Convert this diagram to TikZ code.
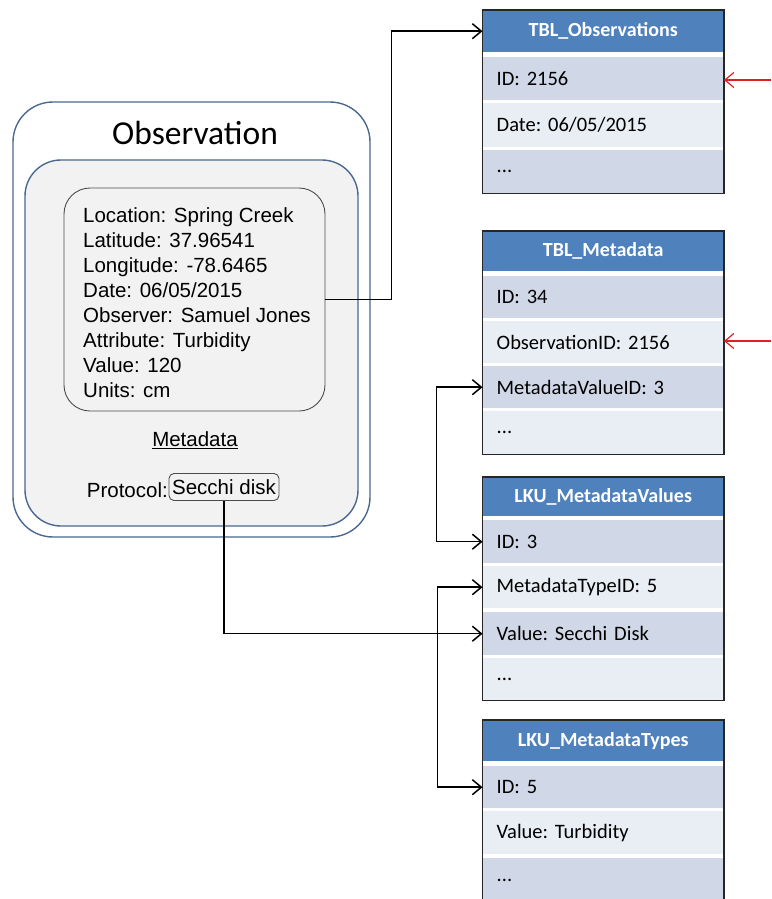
\documentclass[tikz,border=0pt]{standalone}
\usepackage{fontspec}
\setmainfont{Liberation Sans}
\newfontfamily\calibri{Carlito}
\usetikzlibrary{arrows.meta}
\definecolor{hdrblue}{HTML}{4F81BD}
\definecolor{rowdark}{HTML}{D0D8E8}
\definecolor{rowlight}{HTML}{E9EDF4}
\definecolor{boxline}{HTML}{4A6890}
\definecolor{boxfill}{HTML}{F2F2F2}
\definecolor{tblline}{HTML}{262626}
\definecolor{redarr}{HTML}{E02020}
\tikzset{
  hdr/.style={rectangle, fill=hdrblue, minimum width=241pt, inner sep=0pt, anchor=north west,
    text=white, font=\calibri\bfseries\fontsize{20}{24}\selectfont\frenchspacing},
  rowbase/.style={rectangle, anchor=north west, minimum width=241pt, text width=213pt,
    inner xsep=14pt, inner ysep=0pt, align=left, font=\calibri\fontsize{20.5}{24}\selectfont\frenchspacing},
  rowd/.style={rowbase, fill=rowdark},
  rowl/.style={rowbase, fill=rowlight},
  tblborder/.style={draw=tblline, line width=1.6pt},
  conn/.style={draw=black, line width=1.5pt, -{Straight Barb[length=9pt,width=15pt,line width=1.5pt]}},
  conn2/.style={draw=black, line width=1.5pt, {Straight Barb[length=9pt,width=15pt,line width=1.5pt]}-{Straight Barb[length=9pt,width=15pt,line width=1.5pt]}},
  redconn/.style={draw=redarr, line width=1.2pt, -{Straight Barb[length=9pt,width=15pt,line width=1.2pt]}},
}
\begin{document}
\begin{tikzpicture}[x=1pt,y=-1pt]
\useasboundingbox (0,0) rectangle (771,899);
% Observation boxes
\draw[boxline, line width=1.4pt, fill=white, rounded corners=40pt] (13,102) rectangle (370,537);
\draw[boxline, line width=1.4pt, fill=boxfill, rounded corners=36pt] (25,160) rectangle (358,526);
\node[font=\calibri\fontsize{33.5}{40}\selectfont] (title) at (195,133) {Observation};
\node[draw=black!70, line width=0.9pt, fill=boxfill, rounded corners=26pt,
      minimum width=261pt, minimum height=223pt] (data) at (194.5,299.5) {};
\node[anchor=north west, align=left, inner sep=0pt, font=\fontsize{20.5}{25}\selectfont] (datatext) at (83,207)
 {Location: Spring Creek\\Latitude: 37.96541\\Longitude: -78.6465\\Date: 06/05/2015\\Observer: Samuel Jones\\Attribute: Turbidity\\Value: 120\\Units: cm};
\node[font=\fontsize{20.5}{25}\selectfont] (meta) at (195,440) {\underline{Metadata}};
\node[anchor=east, inner sep=0pt, font=\fontsize{20.5}{25}\selectfont] (protocol) at (168,490) {Protocol:};
\node[draw=black!70, line width=0.9pt, fill=boxfill, rounded corners=5pt, minimum width=110pt,
      minimum height=27pt, inner sep=0pt, font=\fontsize{20.5}{25}\selectfont] (secchi) at (224,487) {Secchi disk};

% TBL_Observations
\node[hdr, minimum height=42pt] (obshdr) at (482.5,10) {TBL\_Observations};
\node[rowd, minimum height=43pt] (obsid) at (482.5,57) {ID: 2156};
\node[rowl, minimum height=44pt] (obsdate) at (482.5,103) {Date: 06/05/2015};
\node[rowd, minimum height=43pt] (obsdots) at (482.5,150) {...};
\draw[tblborder] (obshdr.north west) rectangle (obsdots.south east);

% TBL_Metadata
\node[hdr, minimum height=40pt] (mdhdr) at (482.5,231) {TBL\_Metadata};
\node[rowd, minimum height=42pt] (mdid) at (482.5,276) {ID: 34};
\node[rowl, minimum height=42pt] (mdobs) at (482.5,321) {ObservationID: 2156};
\node[rowd, minimum height=42pt] (mdval) at (482.5,366) {MetadataValueID: 3};
\node[rowl, minimum height=43pt] (mddots) at (482.5,411) {...};
\draw[tblborder] (mdhdr.north west) rectangle (mddots.south east);

% LKU_MetadataValues
\node[hdr, minimum height=39pt] (mvhdr) at (482.5,477) {LKU\_MetadataValues};
\node[rowd, minimum height=43pt] (mvid) at (482.5,520) {ID: 3};
\node[rowl, minimum height=42pt] (mvtype) at (482.5,566) {MetadataTypeID: 5};
\node[rowd, minimum height=43pt] (mvvalue) at (482.5,612) {Value: Secchi Disk};
\node[rowl, minimum height=42pt] (mvdots) at (482.5,658) {...};
\draw[tblborder] (mvhdr.north west) rectangle (mvdots.south east);

% LKU_MetadataTypes
\node[hdr, minimum height=41pt] (mthdr) at (482.5,720) {LKU\_MetadataTypes};
\node[rowd, minimum height=42pt] (mtid) at (482.5,766) {ID: 5};
\node[rowl, minimum height=43pt] (mtvalue) at (482.5,811) {Value: Turbidity};
\node[rowd, minimum height=44pt] (mtdots) at (482.5,858) {...};
\draw[tblborder] (mthdr.north west) rectangle (mtdots.south east);

% connectors
\draw[conn] (data.east) -- ++(66,0) |- (obshdr.west);
\draw[conn] (secchi.south) |- (mvvalue.west);
\draw[conn2] (mdval.west) -- ++(-46,0) |- (mvid.west);
\draw[conn2] (mvtype.west) -- ++(-45,0) |- (mtid.west);
\coordinate (red1) at (771,80);
\coordinate (red2) at (771,341);
\draw[redconn] (red1) -- (red1 -| obsid.east);
\draw[redconn] (red2) -- (red2 -| mdobs.east);
\end{tikzpicture}
\end{document}
